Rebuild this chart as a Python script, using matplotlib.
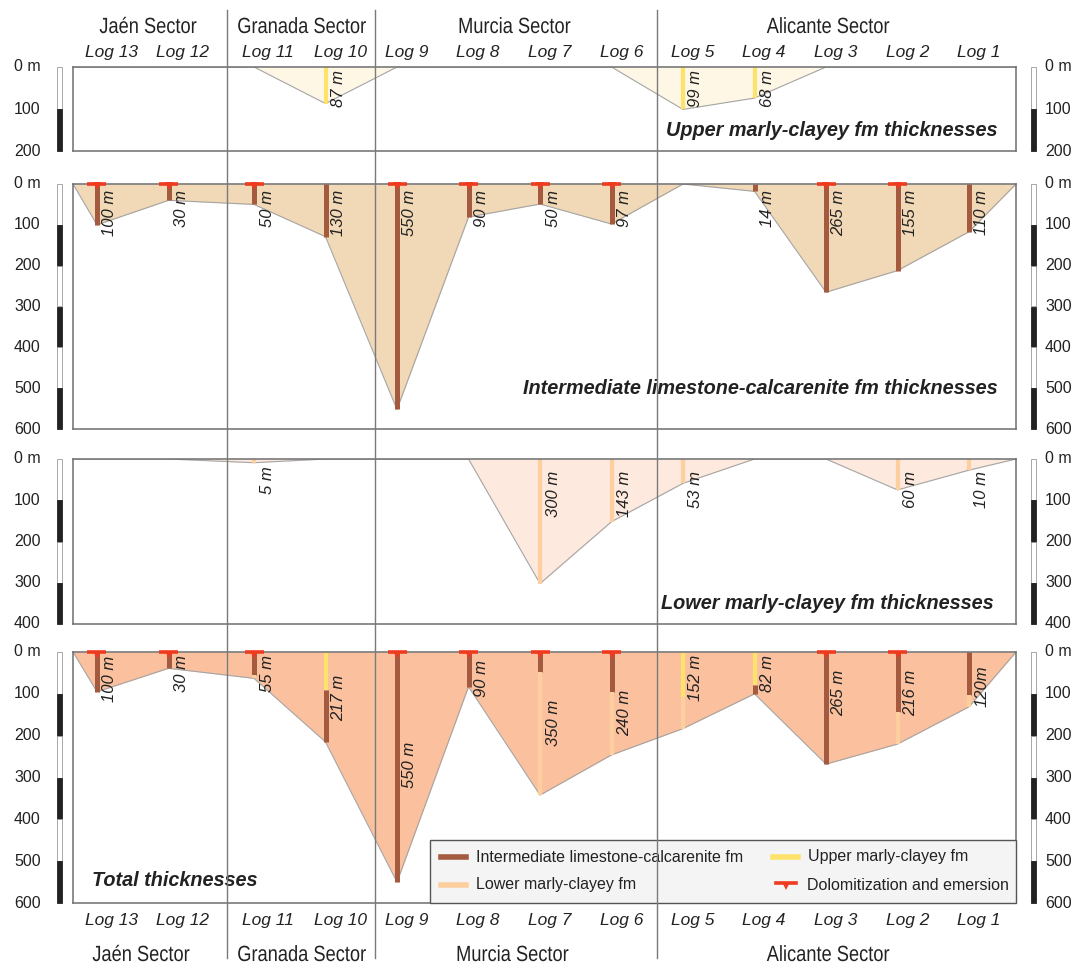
"""
Espesores de las formaciones por log y sector (Jaén, Granada, Murcia, Alicante).
"""

import matplotlib
matplotlib.use('Agg')
import matplotlib.pyplot as plt
from matplotlib.patches import Rectangle, PathPatch
from matplotlib.lines import Line2D
from matplotlib.textpath import TextPath
from matplotlib.font_manager import FontProperties
from matplotlib.transforms import Affine2D

W, H = 1077, 966

LOGS = ['Log 13', 'Log 12', 'Log 11', 'Log 10', 'Log 9', 'Log 8', 'Log 7',
        'Log 6', 'Log 5', 'Log 4', 'Log 3', 'Log 2', 'Log 1']
SECTORS = ['Jaén Sector', 'Granada Sector', 'Murcia Sector', 'Alicante Sector']

# Espesores (m) tal como se dibujan, y etiquetas
upper = [0, 0, 0, 87, 0, 0, 0, 0, 101, 74, 0, 0, 0]
upper_lbl = ['', '', '', '87 m', '', '', '', '', '99 m', '68 m', '', '', '']

inter = [100, 40, 50, 129, 552, 81, 49, 98, 0, 18, 265, 212, 117]
inter_lbl = ['100 m', '30 m', '50 m', '130 m', '550 m', '90 m', '50 m', '97 m',
             '', '14 m', '265 m', '155 m', '110 m']

lower = [0, 0, 9, 0, 0, 0, 302, 152, 59, 0, 0, 75, 27]
lower_lbl = ['', '', '5 m', '', '', '', '300 m', '143 m', '53 m', '', '',
             '60 m', '10 m']

# Columna total: tramo superior / intermedio / inferior
tot_upper = [0, 0, 0, 91, 0, 0, 0, 0, 107, 79, 0, 0, 0]
tot_inter = [95, 39, 55, 124, 550, 83, 47, 96, 0, 21, 268, 143, 103]
tot_lower = [0, 0, 8, 0, 0, 0, 295, 150, 76, 0, 0, 77, 28]
tot_lbl = ['100 m', '30 m', '55 m', '217 m', '550 m', '90 m', '350 m', '240 m',
           '152 m', '82 m', '265 m', '216 m', '120m']
tot_lbl_top = [8, 8, 8, 55, 215, 19, 115, 91, 7, 7, 43, 43, 31]

dolomit = [1, 1, 1, 0, 1, 1, 1, 1, 0, 0, 1, 1, 0]

# Colores
C_INTER = '#a35a3e'
C_UPPER = '#fde36b'
C_LOWER = '#fdcf9f'
C_RED = '#ee3b1f'
C_EDGE = '#a5a5a5'
C_FRAME = '#6e6e6e'
C_DIV = '#7a7a7a'
C_TXT = '#222222'

SANS = ['Liberation Sans', 'DejaVu Sans']

# Geometria (pixeles)
X0, X1 = 73, 1016
XLOG = [97 + 71.5 * i + (14 if i >= 2 else 0) for i in range(len(LOGS))]
XS = [X0] + XLOG + [X1]

fig = plt.figure(figsize=(W / 100, H / 100), dpi=100)


def fy(y):
    return 1 - y / H


def narrow_text(x, baseline, s, size=22, sx=0.83):
    """Texto condensado (tipo Arial Narrow) centrado en x."""
    tp = TextPath((0, 0), s, size=size, prop=FontProperties(family='Liberation Sans'))
    ext = tp.get_extents()
    cx = (ext.x0 + ext.x1) / 2
    tr = Affine2D().translate(-cx, 0).scale(sx, 1).translate(x, H - baseline)
    fig.add_artist(PathPatch(tp, transform=tr, facecolor=C_TXT, lw=0))


def make_panel(top, bottom, dmax):
    ax = fig.add_axes([X0 / W, fy(bottom), (X1 - X0) / W, (bottom - top) / H])
    ax.set_xlim(X0, X1)
    ax.set_ylim(dmax, 0)
    ax.set_xticks([])
    ax.set_yticks([])
    for s in ax.spines.values():
        s.set_color(C_FRAME)
        s.set_linewidth(1.1)
        s.set_zorder(6)
    # barras de escala
    for k, d in enumerate(range(0, dmax, 100)):
        for xb in (57, 1031):
            if k % 2 == 0:
                r = Rectangle((xb, d), 5, 100, facecolor='white',
                              edgecolor='#9a9a9a', lw=0.6, clip_on=False)
            else:
                r = Rectangle((xb, d), 5, 100, facecolor='#222222',
                              edgecolor='#222222', lw=0.6, clip_on=False)
            ax.add_patch(r)
    for d in range(0, dmax + 1, 100):
        t = '0 m' if d == 0 else str(d)
        ax.text(14, d, t, ha='left', va='center', fontsize=11.5,
                family=SANS, color=C_TXT, clip_on=False)
        ax.text(1045, d, t, ha='left', va='center', fontsize=11.5,
                family=SANS, color=C_TXT, clip_on=False)
    return ax


def draw_shape(ax, total, fill):
    ds = [0] + list(total) + [0]
    ax.fill_between(XS, 0, ds, color=fill, lw=0, zorder=1)
    ax.plot(XS, ds, color=C_EDGE, lw=0.8, zorder=2)


def draw_bar(ax, x, d0, d1, color, lw=3.6):
    if d1 > d0:
        ax.plot([x, x], [d0, d1], color=color, lw=lw,
                solid_capstyle='butt', zorder=3)


def draw_dolo(ax, x):
    ax.plot([x - 9.5, x + 9.5], [0, 0], color=C_RED, lw=2.6,
            solid_capstyle='butt', zorder=7, clip_on=False)
    ax.plot([x], [6], marker='v', ms=5.5, color=C_RED, mew=0, zorder=7,
            clip_on=False)


def draw_labels(ax, labels, tops):
    for x, lbl, t in zip(XLOG, labels, tops):
        if lbl:
            ax.text(x + 13, t, lbl, rotation=90, ha='center', va='top',
                    fontsize=12, style='italic', family=SANS,
                    color=C_TXT, zorder=8)


def panel_title(ax, x, y, txt, ha):
    ax.text(x, y, txt, ha=ha, va='center', fontsize=14.3, weight='bold',
            style='italic', family=SANS, color=C_TXT, zorder=8)


# Panel 1: superior margo-arcillosa
ax1 = make_panel(67, 151, 200)
draw_shape(ax1, upper, '#fef7e6')
for x, d in zip(XLOG, upper):
    draw_bar(ax1, x, 0, d, C_UPPER, lw=3.0)
draw_labels(ax1, upper_lbl, [8] * len(LOGS))
panel_title(ax1, 998, 152, 'Upper marly-clayey fm thicknesses', 'right')

# Panel 2: intermedia calizo-calcarenitica
ax2 = make_panel(184, 429, 600)
draw_shape(ax2, inter, '#f1d8b6')
for x, d, f in zip(XLOG, inter, dolomit):
    draw_bar(ax2, x, 0, d, C_INTER)
    if f:
        draw_dolo(ax2, x)
draw_labels(ax2, inter_lbl, [15] * len(LOGS))
panel_title(ax2, 998, 500, 'Intermediate limestone-calcarenite fm thicknesses',
            'right')

# Panel 3: inferior margo-arcillosa
ax3 = make_panel(459, 624, 400)
draw_shape(ax3, lower, '#fde9dd')
for x, d in zip(XLOG, lower):
    draw_bar(ax3, x, 0, d, C_LOWER, lw=3.0)
draw_labels(ax3, lower_lbl, [17 if l == '5 m' else 28 for l in lower_lbl])
panel_title(ax3, 994, 350, 'Lower marly-clayey fm thicknesses', 'right')

# Panel 4: espesores totales
ax4 = make_panel(652, 903, 600)
totals = [u + i + l for u, i, l in zip(tot_upper, tot_inter, tot_lower)]
draw_shape(ax4, totals, '#fbc19f')
for x, u, i, l, f in zip(XLOG, tot_upper, tot_inter, tot_lower, dolomit):
    draw_bar(ax4, x, 0, u, C_UPPER, lw=3.0)
    draw_bar(ax4, x, u, u + i, C_INTER)
    draw_bar(ax4, x, u + i, u + i + l, C_LOWER, lw=3.0)
    if f:
        draw_dolo(ax4, x)
draw_labels(ax4, tot_lbl, tot_lbl_top)
panel_title(ax4, 92, 546, 'Total thicknesses', 'left')

# Textos de sectores y logs (arriba y abajo)
sec_x_top = [148, 302, 515, 828]
sec_x_bot = [141, 302, 513, 828]
for s, xt, xb in zip(SECTORS, sec_x_top, sec_x_bot):
    narrow_text(xt, 33, s)
    narrow_text(xb, 961, s)
for x, lg in zip(XLOG, LOGS):
    for y in (52, 920):
        fig.text((x - 12) / W, fy(y), lg, ha='left', va='center',
                 fontsize=12.5, style='italic', family=SANS, color=C_TXT)

# Leyenda
fig.add_artist(Rectangle((430 / W, fy(903)), (X1 - 430) / W, (903 - 840) / H,
                         transform=fig.transFigure, facecolor='#f4f4f4',
                         edgecolor='#555555', lw=1.0, zorder=3))
leg = [(441, 857, C_INTER, 'Intermediate limestone-calcarenite fm'),
       (773, 857, C_UPPER, 'Upper marly-clayey fm'),
       (441, 885, C_LOWER, 'Lower marly-clayey fm')]
for x, y, c, t in leg:
    fig.add_artist(Line2D([x / W, (x + 25) / W], [fy(y), fy(y)], color=c,
                          lw=4, transform=fig.transFigure, zorder=4))
    fig.text((x + 35) / W, fy(y), t, ha='left', va='center', fontsize=11.5,
             family=SANS, color=C_TXT, zorder=4)
fig.add_artist(Line2D([776 / W, 796 / W], [fy(883), fy(883)], color=C_RED,
                      lw=2.6, transform=fig.transFigure, zorder=4))
fig.add_artist(Line2D([786 / W], [fy(886)], marker='v', ms=5.5, mew=0,
                      color=C_RED, transform=fig.transFigure, zorder=4))
fig.text(807 / W, fy(885), 'Dolomitization and emersion', ha='left',
         va='center', fontsize=11.5, family=SANS, color=C_TXT, zorder=4)

# Divisiones entre sectores
for xd in (227, 375, 657):
    fig.add_artist(Line2D([xd / W, xd / W], [fy(10), fy(958)], color=C_DIV,
                          lw=1.0, transform=fig.transFigure, zorder=9))

fig.savefig('out.png', dpi=100)
